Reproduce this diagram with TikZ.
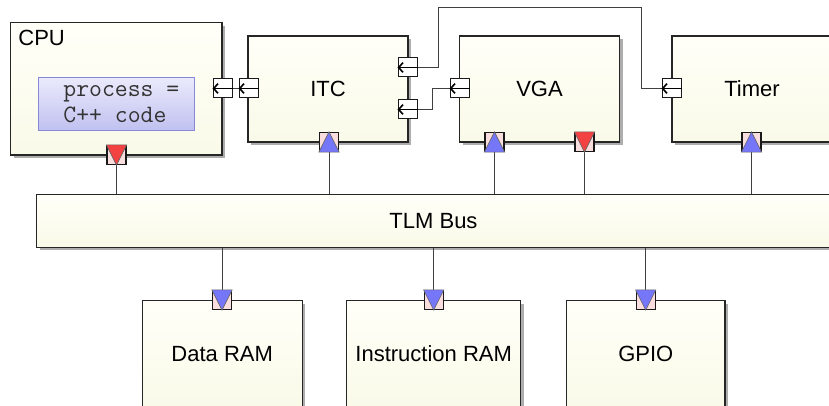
\documentclass[tikz,border=0pt]{standalone}
\usepackage{fontspec}
\setmainfont{Liberation Sans}
\usepackage{tikz}
\usetikzlibrary{positioning,calc,shadows,arrows.meta}

\definecolor{boxtop}{RGB}{255,255,248}
\definecolor{boxbot}{RGB}{250,250,233}
\definecolor{portpink}{RGB}{250,222,222}
\definecolor{portblue}{RGB}{118,118,248}
\definecolor{portred}{RGB}{242,66,66}
\definecolor{codetop}{RGB}{234,234,252}
\definecolor{codebot}{RGB}{192,192,240}
\definecolor{codeline}{RGB}{136,136,216}

\tikzset{
  module/.style={draw=black!85,line width=0.6pt,top color=boxtop,bottom color=boxbot,
    drop shadow={shadow xshift=1.5pt,shadow yshift=-1.5pt,fill=black!40,opacity=0.8},
    minimum width=80pt,minimum height=53pt,inner sep=0pt,font=\fontsize{11}{13}\selectfont},
  port/.style={draw=black!90,line width=0.6pt,fill=portpink,minimum size=9.5pt,inner sep=0pt},
  arrport/.style={draw=black!90,line width=0.5pt,fill=white,minimum size=9.5pt,inner sep=0pt},
  wire/.style={draw=black!75,line width=0.5pt},
  larrow/.style={-{Straight Barb[length=2.2pt,width=4.8pt]},line width=0.8pt},
}

\begin{document}
\begin{tikzpicture}[x=0.5pt,y=-0.5pt]
  \useasboundingbox (0,0) rectangle (829,406);
  \clip (0,0) rectangle (829,406);
  % modules
  \node[module,minimum width=105.6pt,minimum height=66.2pt] (cpu) at (116.3,88.8) {};
  \node[anchor=base west,inner sep=0pt,font=\fontsize{11}{13}\selectfont] (cpuLbl) at (18,46) {CPU};
  \node[draw=codeline,line width=0.5pt,top color=codetop,bottom color=codebot,
    minimum width=78pt,minimum height=26.5pt] (code) at (116,104.5) {};
  \node[anchor=west,align=left,inner sep=0pt,text=black!80,
    font=\ttfamily\fontsize{12.5}{13}\selectfont] (codeTxt) at (63,104.5) {process =\\C++ code};
  \node[module] (itc) at (328,89) {ITC};
  \node[module] (vga) at (539.5,89) {VGA};
  \node[module] (timer) at (752,89) {Timer};
  \node[module,minimum width=396.8pt,minimum height=26.2pt] (bus) at (433.5,221) {TLM Bus};
  \node[module] (dram) at (222.2,353.7) {Data RAM};
  \node[module,minimum width=87pt] (iram) at (433.7,353.7) {Instruction RAM};
  \node[module,minimum width=79.2pt] (gpio) at (645.8,353.7) {GPIO};

  % interrupt ports
  \foreach \n/\x/\y in {cpuE/222.5/88.5,itcW/248.5/88.5,itcEa/407.5/67.5,
                        itcEb/407.5/109.5,vgaW/459.5/88.5,timW/671.5/88.5}{
    \node[arrport] (\n) at (\x,\y) {};
  }
  \coordinate (loopTop) at (641,8);
  \draw[wire] (itcW.west) -- (cpuE.east);
  \draw[wire] (itcEa.east) -- ++(21,0) |- (loopTop) |- (timW.west);
  \draw[wire] (vgaW.west) -- ++(-17,0) |- (itcEb.east);
  \foreach \n in {cpuE,itcW,itcEa,itcEb,vgaW,timW}
    \draw[larrow] (\n.east) -- (\n.west);

  % bus ports
  \foreach \n/\x/\y/\c in {cpuS/116.5/155/portred,itcS/329/142/portblue,
                           vgaSa/494.5/142/portblue,vgaSb/584.5/142/portred,
                           timS/751.5/142/portblue}{
    \node[port] (\n) at (\x,\y) {};
    \draw[wire] (\n.south) -- (\n.south |- bus.north);
  }
  \foreach \n/\x in {dramN/222,iramN/433.7,gpioN/645.7}{
    \node[port] (\n) at (\x,300) {};
    \draw[wire] (\n.north) -- (\n.north |- bus.south);
    \filldraw[fill=portblue,draw=black!60,line width=0.3pt]
      (\n.north west) -- (\n.north east) -- (\n.south) -- cycle;
  }
  \foreach \n in {itcS,vgaSa,timS}
    \filldraw[fill=portblue,draw=black!60,line width=0.3pt]
      (\n.south west) -- (\n.south east) -- (\n.north) -- cycle;
  \foreach \n in {cpuS,vgaSb}
    \filldraw[fill=portred,draw=black!60,line width=0.3pt]
      (\n.north west) -- (\n.north east) -- (\n.south) -- cycle;
\end{tikzpicture}
\end{document}
